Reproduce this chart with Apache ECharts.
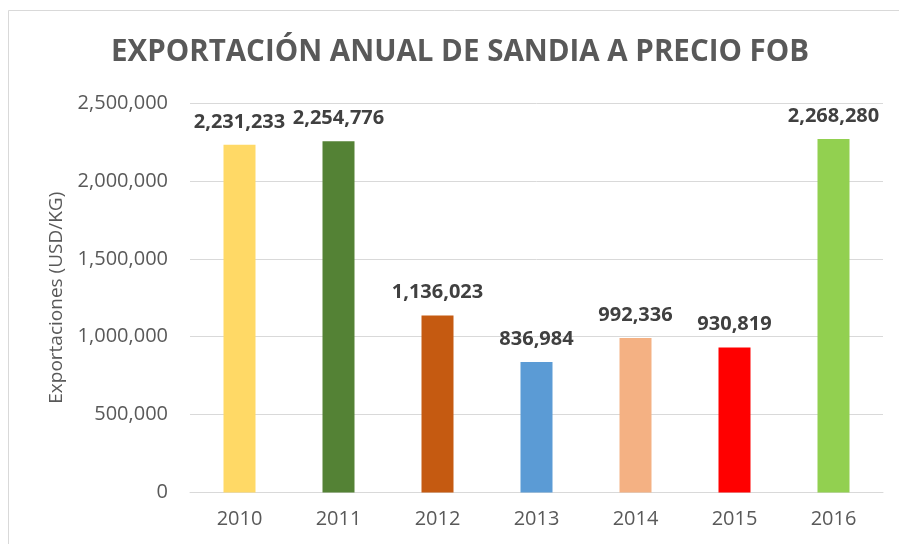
<!DOCTYPE html>
<html>
<head>
<meta charset="utf-8">
<script src="https://cdn.jsdelivr.net/npm/echarts@6/dist/echarts.min.js"></script>
<style>
  html, body { margin: 0; padding: 0; background: #ffffff; }
  #chart { width: 899px; height: 544px; }
</style>
</head>
<body>
<div id="chart"></div>
<script>
const years = ["2010", "2011", "2012", "2013", "2014", "2015", "2016"];
const exportValues = [2231233, 2254776, 1136023, 836984, 992336, 930819, 2268280];
const barColors = ["#FFD966", "#548235", "#C55A11", "#5B9BD5", "#F4B183", "#FF0000", "#92D050"];

const TEXT = "#595959";
const GRID = "#d9d9d9";

function fmt(v) {
  return Number(v).toLocaleString("en-US");
}

const chart = echarts.init(document.getElementById("chart"), null, { renderer: "canvas" });
chart.setOption({
  backgroundColor: "#ffffff",
  animation: false,
  textStyle: { fontFamily: "Open Sans" },
  graphic: [{
    type: "rect",
    shape: { x: 8.5, y: 10.5, width: 1000, height: 1000 },
    style: { fill: "none", stroke: GRID, lineWidth: 1 },
    silent: true
  }],
  title: {
    text: "EXPORTACIÓN ANUAL DE SANDIA A PRECIO FOB",
    left: 106,
    top: 33,
    textStyle: { fontFamily: "Open Sans", fontSize: 29.5, fontWeight: "bold", color: TEXT }
  },
  grid: { left: 190, right: 16, top: 103, bottom: 51.5 },
  xAxis: {
    type: "category",
    data: years,
    axisLine: { lineStyle: { color: GRID, width: 1 } },
    axisTick: { show: false },
    axisLabel: { color: TEXT, fontSize: 20, margin: 17 }
  },
  yAxis: {
    type: "value",
    min: 0,
    max: 2500000,
    interval: 500000,
    name: "Exportaciones (USD/KG)",
    nameLocation: "middle",
    nameGap: 124,
    nameTextStyle: { color: TEXT, fontSize: 19 },
    axisLine: { show: false },
    axisTick: { show: false },
    axisLabel: { color: TEXT, fontSize: 20, margin: 22, formatter: (v) => fmt(v) },
    splitLine: { lineStyle: { color: GRID, width: 1 } }
  },
  series: [{
    type: "bar",
    barWidth: 32,
    data: exportValues.map((v, i) => ({ value: v, itemStyle: { color: barColors[i] } })),
    label: {
      show: true,
      position: "top",
      distance: 13,
      color: "#404040",
      fontSize: 20,
      fontWeight: "bold",
      formatter: (p) => fmt(p.value)
    }
  }]
});
</script>
</body>
</html>
